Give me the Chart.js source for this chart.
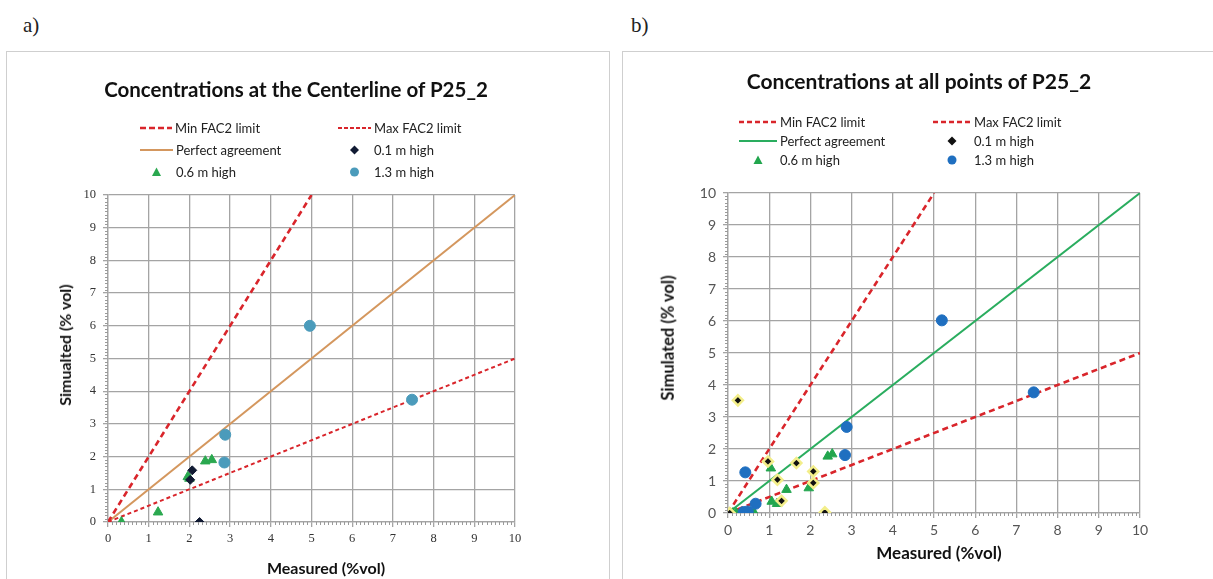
<!DOCTYPE html>
<html><head><meta charset="utf-8">
<script src="https://cdn.jsdelivr.net/npm/chart.js@4.4.0/dist/chart.umd.min.js"></script>
<style>
body{margin:0;background:#fff;width:1213px;height:579px;overflow:hidden;position:relative;font-family:Lato,"Liberation Sans",sans-serif;}
.lab{position:absolute;font-family:"Liberation Serif",serif;font-size:21px;color:#222;line-height:1;}
.panel{position:absolute;border:1px solid #cfcfcf;background:#fff;}
canvas{position:absolute;}
.title{position:absolute;font-weight:bold;color:#111;white-space:nowrap;transform:translate(-50%,-50%);}
.axt{position:absolute;font-weight:bold;color:#111;white-space:nowrap;line-height:1;transform:translate(-50%,-50%);}
.axt.v{transform:translate(-50%,-50%) rotate(-90deg);}
.leg{position:absolute;font-size:13px;color:#222;white-space:nowrap;display:flex;align-items:center;transform:translateY(-50%);}
.leg svg{display:block;margin-right:3px;}
</style></head>
<body>
<div class="lab" style="left:23px;top:15px;">a)</div>
<div class="lab" style="left:631px;top:15px;">b)</div>
<div class="panel" style="left:6px;top:51px;width:602px;height:560px;"></div>
<div class="panel" style="left:622px;top:51px;width:600px;height:560px;"></div>
<canvas id="ca" width="610" height="579" style="left:0;top:0;width:610px;height:579px;"></canvas>
<canvas id="cb" width="603" height="579" style="left:610px;top:0;width:603px;height:579px;"></canvas>
<div class="title" style="left:296px;top:89px;font-size:20.5px;">Concentrations at the Centerline of P25_2</div>
<div class="title" style="left:919px;top:80px;font-size:21px;">Concentrations at all points of P25_2</div>
<div class="axt" style="left:326px;top:568px;font-size:16px;">Measured (%vol)</div>
<div class="axt v" style="left:65px;top:345px;font-size:16px;">Simualted (% vol)</div>
<div class="axt" style="left:939px;top:552px;font-size:17px;">Measured (%vol)</div>
<div class="axt v" style="left:668px;top:338px;font-size:16.5px;">Simulated (% vol)</div>
<div id="legends"></div>
<script>
// ---------- data ----------
const axisTicks = [0,1,2,3,4,5,6,7,8,9,10];
const minFac2Measured = [0, 5];
const minFac2Simulated = [0, 10];
const maxFac2Measured = [0, 10];
const maxFac2Simulated = [0, 5];
const perfectMeasured = [0, 10];
const perfectSimulated = [0, 10];

// panel a) centerline
const a_h01_measured  = [2.07, 2.02, 2.25];
const a_h01_simulated = [1.58, 1.29, 0.0];
const a_h06_measured  = [0.33, 1.23, 1.96, 2.0, 2.39, 2.55];
const a_h06_simulated = [0.0, 0.3, 1.38, 1.33, 1.86, 1.9];
const a_h13_measured  = [2.88, 2.86, 4.96, 7.47];
const a_h13_simulated = [2.67, 1.82, 6.0, 3.74];

// panel b) all points
const b_h01_measured  = [0.04, 0.24, 0.97, 1.2, 1.3, 1.66, 2.07, 2.07, 2.35];
const b_h01_simulated = [0.0, 3.52, 1.61, 1.04, 0.38, 1.56, 1.3, 0.94, 0.02];
const b_h06_measured  = [0.12, 0.2, 0.55, 0.63, 1.04, 1.06, 1.19, 1.42, 1.96, 2.42, 2.53];
const b_h06_simulated = [0.0, 0.0, 0.02, 0.02, 1.4, 0.36, 0.29, 0.73, 0.78, 1.77, 1.84];
const b_h13_measured  = [0.38, 0.48, 0.42, 0.67, 2.88, 2.84, 5.19, 7.42];
const b_h13_simulated = [0.03, 0.05, 1.27, 0.29, 2.69, 1.81, 6.02, 3.77];

const pts = (xs, ys) => xs.map((x, i) => ({x, y: ys[i]}));

// ---------- styles ----------
const RED = '#d9252b';
const minorTicks = {
  id: 'minorTicks',
  afterDatasetsDraw(chart, args, opts) {
    const ctx = chart.ctx, xs = chart.scales.x, ys = chart.scales.y;
    ctx.save();
    ctx.strokeStyle = opts.color; ctx.lineWidth = 1;
    for (let k = 1; k < 100; k++) {
      if (k % 10 === 0) continue;
      const v = k / 10;
      const px = Math.round(xs.getPixelForValue(v)) + 0.5;
      ctx.beginPath(); ctx.moveTo(px, ys.bottom); ctx.lineTo(px, ys.bottom + opts.len); ctx.stroke();
      const py = Math.round(ys.getPixelForValue(v)) + 0.5;
      ctx.beginPath(); ctx.moveTo(xs.left, py); ctx.lineTo(xs.left - opts.len, py); ctx.stroke();
    }
    ctx.restore();
  }
};

function buildChart(id, o) {
  const lineDs = (label, xs, ys, color, w, dash) => ({
    label, data: pts(xs, ys), showLine: true, pointRadius: 0, borderColor: color,
    borderWidth: w, borderDash: dash, fill: false, order: 10
  });
  return new Chart(document.getElementById(id), {
    type: 'scatter',
    data: { datasets: [
      lineDs('Min FAC2 limit', minFac2Measured, minFac2Simulated, RED, o.minW, o.minDash),
      lineDs('Max FAC2 limit', maxFac2Measured, maxFac2Simulated, RED, o.maxW, o.maxDash),
      lineDs('Perfect agreement', perfectMeasured, perfectSimulated, o.perfectColor, 2, []),
      { label: '0.1 m high', data: pts(o.h01x, o.h01y), pointStyle: 'rectRot', pointRadius: o.h01r,
        backgroundColor: o.h01bg, borderColor: o.h01border, borderWidth: o.h01bw, order: 1 },
      { label: '0.6 m high', data: pts(o.h06x, o.h06y), pointStyle: 'triangle', pointRadius: 5.5,
        backgroundColor: o.h06color, borderColor: o.h06color, borderWidth: 1, order: 2 },
      { label: '1.3 m high', data: pts(o.h13x, o.h13y), pointStyle: 'circle', pointRadius: 5.5,
        backgroundColor: o.h13color, borderColor: o.h13color, borderWidth: 1, order: 0 }
    ]},
    options: {
      responsive: false, animation: false, events: [],
      layout: { padding: o.padding },
      plugins: { legend: { display: false }, tooltip: { enabled: false },
        minorTicks: { color: '#9a9a9a', len: 3 } },
      scales: {
        x: { type: 'linear', min: 0, max: 10,
          afterBuildTicks: s => { s.ticks = axisTicks.map(v => ({value: v})); },
          afterFit: s => { s.height = o.xH; },
          grid: { color: '#a4a4a4', lineWidth: 1.3, tickLength: 5, drawTicks: true },
          border: { color: '#a4a4a4', width: 1.3 },
          ticks: { color: o.tickColor, font: o.tickFont, padding: o.xPad, maxRotation: 0 },
          title: { display: false } },
        y: { type: 'linear', min: 0, max: 10,
          afterBuildTicks: s => { s.ticks = axisTicks.map(v => ({value: v})); },
          afterFit: s => { s.width = o.yW; },
          grid: { color: '#a4a4a4', lineWidth: 1.3, tickLength: 5, drawTicks: true },
          border: { color: '#a4a4a4', width: 1.3 },
          ticks: { color: o.tickColor, font: o.tickFont, padding: 7 },
          title: { display: false } }
      }
    },
    plugins: [minorTicks]
  });
}

buildChart('ca', {
  padding: { left: 52, top: 195, right: 95, bottom: 0 }, yW: 56, xH: 57, xPad: 4,
  minW: 2.6, minDash: [6, 4], maxW: 2, maxDash: [4, 3], perfectColor: '#d4975e',
  h01x: a_h01_measured, h01y: a_h01_simulated, h01r: 4.5, h01bg: '#111a33', h01border: '#111a33', h01bw: 1,
  h06x: a_h06_measured, h06y: a_h06_simulated, h06color: '#2aa84f',
  h13x: a_h13_measured, h13y: a_h13_simulated, h13color: '#4b9bbb',
  tickColor: '#333', tickFont: { family: 'Liberation Serif', size: 12.5 }
});
buildChart('cb', {
  padding: { left: 44, top: 193, right: 73, bottom: 16 }, yW: 74, xH: 50, xPad: 4,
  minW: 2.6, minDash: [6, 4], maxW: 2.6, maxDash: [6, 4], perfectColor: '#2aad5f',
  h01x: b_h01_measured, h01y: b_h01_simulated, h01r: 5, h01bg: '#111111', h01border: '#f3ee8a', h01bw: 2.5,
  h06x: b_h06_measured, h06y: b_h06_simulated, h06color: '#22a64e',
  h13x: b_h13_measured, h13y: b_h13_simulated, h13color: '#1f6fc0',
  tickColor: '#555', tickFont: { family: 'Lato', size: 14 }
});

// ---------- legends (HTML) ----------
function sample(kind, w, color, lw, dash, extra) {
  const h = 12, c = h / 2;
  if (kind === 'line')
    return `<svg width="${w}" height="${h}"><line x1="0" y1="${c}" x2="${w}" y2="${c}" stroke="${color}" stroke-width="${lw}" stroke-dasharray="${dash}"/></svg>`;
  const m = w / 2;
  if (kind === 'tri')
    return `<svg width="${w}" height="${h}"><polygon points="${m-4.5},${c+4} ${m+4.5},${c+4} ${m},${c-4.5}" fill="${color}"/></svg>`;
  if (kind === 'circ')
    return `<svg width="${w}" height="${h}"><circle cx="${m}" cy="${c}" r="4.5" fill="${color}"/></svg>`;
  if (kind === 'dia')
    return `<svg width="${w}" height="${h}"><polygon points="${m},${c-4.5} ${m+4.5},${c} ${m},${c+4.5} ${m-4.5},${c}" fill="${color}" stroke="${extra || 'none'}" stroke-width="${extra ? 2 : 0}"/></svg>`;
}
function legendItem(x, y, svg, text) {
  const d = document.createElement('div');
  d.className = 'leg';
  d.style.left = x + 'px'; d.style.top = y + 'px';
  d.innerHTML = svg + '<span>' + text + '</span>';
  document.getElementById('legends').appendChild(d);
}
// panel a
legendItem(140, 128, sample('line', 32, RED, 2.6, '6 3'), 'Min FAC2 limit');
legendItem(338, 128, sample('line', 33, RED, 1.8, '4 2'), 'Max FAC2 limit');
legendItem(140, 150, sample('line', 33, '#d4975e', 2, ''), 'Perfect agreement');
legendItem(338, 150, sample('dia', 33, '#111a33'), '0.1 m high');
legendItem(140, 172, sample('tri', 33, '#2aa84f'), '0.6 m high');
legendItem(338, 172, sample('circ', 33, '#4b9bbb'), '1.3 m high');
// panel b
legendItem(739, 122, sample('line', 38, RED, 2.4, '5 3'), 'Min FAC2 limit');
legendItem(933, 122, sample('line', 38, RED, 2.4, '5 3'), 'Max FAC2 limit');
legendItem(739, 141, sample('line', 38, '#2aad5f', 2.2, ''), 'Perfect agreement');
legendItem(933, 141, sample('dia', 38, '#111', '#f3ee8a'), '0.1 m high');
legendItem(739, 160, sample('tri', 38, '#22a64e'), '0.6 m high');
legendItem(933, 160, sample('circ', 38, '#1f6fc0'), '1.3 m high');
</script>
</body></html>
